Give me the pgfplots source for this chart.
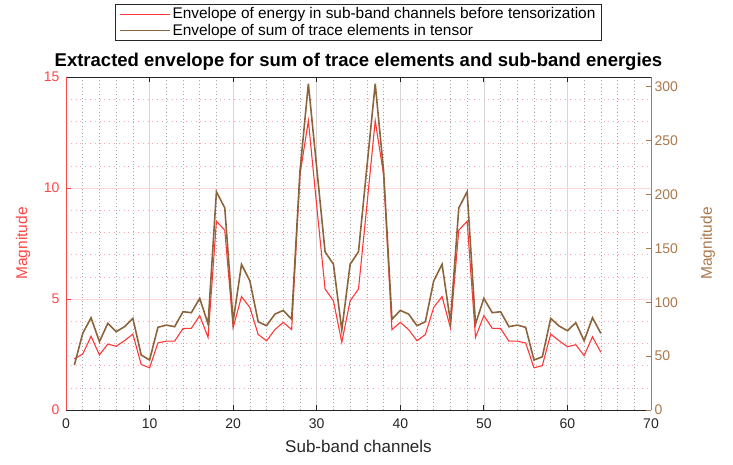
\documentclass[border=0pt]{standalone}
\usepackage{fontspec}
\setmainfont{Liberation Sans}
\usepackage{pgfplots}
\usepackage{pgfplotstable}
\pgfplotsset{compat=1.18}

\definecolor{envred}{RGB}{255,55,55}
\definecolor{envbrown}{RGB}{140,100,60}
\definecolor{axbrown}{RGB}{170,120,75}
\definecolor{axred}{RGB}{255,70,70}

% Envelope of the sub-band energies (left axis)
\pgfplotstableread{
ch  e
1   2.30
2   2.52
3   3.32
4   2.48
5   2.97
6   2.87
7   3.12
8   3.42
9   2.05
10  1.90
11  3.02
12  3.10
13  3.10
14  3.67
15  3.68
16  4.25
17  3.27
18  8.50
19  8.10
20  3.70
21  5.11
22  4.62
23  3.40
24  3.12
25  3.62
26  3.95
27  3.62
28  10.6
29  13.03
30  9.2
31  5.45
32  4.92
33  3.05
34  4.92
35  5.45
36  9.2
37  13.03
38  10.6
39  3.62
40  3.95
41  3.62
42  3.12
43  3.40
44  4.62
45  5.11
46  3.70
47  8.10
48  8.50
49  3.27
50  4.25
51  3.68
52  3.67
53  3.10
54  3.10
55  3.02
56  1.90
57  2.00
58  3.42
59  3.12
60  2.85
61  2.94
62  2.45
63  3.30
64  2.60
}\energy

% Envelope of the summed trace elements (right axis)
\pgfplotstableread{
ch  t
1   41.7
2   71.1
3   85.6
4   63.4
5   80.4
6   72.6
7   77.3
8   85.1
9   51.0
10  46.4
11  76.7
12  78.8
13  77.3
14  91.2
15  90.3
16  103.6
17  79.8
18  202.5
19  187.5
20  81.9
21  135.2
22  119.8
23  81.9
24  78.2
25  89.0
26  92.4
27  84.2
28  222.0
29  302.7
30  225.0
31  146.8
32  135.3
33  74.2
34  135.3
35  146.8
36  225.0
37  302.7
38  222.0
39  84.2
40  92.4
41  89.0
42  78.2
43  81.9
44  119.8
45  135.2
46  81.9
47  187.5
48  202.5
49  79.8
50  103.6
51  90.3
52  91.2
53  77.3
54  78.8
55  76.7
56  46.4
57  49.4
58  85.0
59  77.9
60  73.6
61  81.0
62  64.3
63  85.6
64  71.1
}\trace

\pgfplotsset{
  common/.style={
    at={(0,0)}, anchor=south west,
    scale only axis, width=585pt, height=333pt,
    xmin=0, xmax=70,
    tick align=inside,
    minor tick length=0pt,
    major tick length=5pt,
    /pgf/number format/assume math mode=true,
    tick label style={font=\fontsize{14}{16}\selectfont},
  },
}

\begin{document}
\begin{tikzpicture}
\begin{axis}[
  common,
  ymin=0, ymax=15,
  axis x line=box,
  axis y line*=left,
  x axis line style={black!85, line width=0.8pt},
  y axis line style={axred, line width=0.8pt},
  xtick={0,10,...,70},
  ytick={0,5,10,15},
  minor x tick num=4,
  minor y tick num=4,
  xtick style={black!85, line width=0.8pt},
  ytick style={axred, line width=0.8pt},
  xticklabel style={text=black!85, yshift=-5pt},
  yticklabel style={text=axred, xshift=-3pt},
  xmajorgrids, xminorgrids, ymajorgrids, yminorgrids,
  major x grid style={draw=black!16, line width=0.7pt},
  minor x grid style={draw=black!35, line width=0.5pt, dash pattern=on 0.7pt off 2.8pt},
  major y grid style={draw=red!16, line width=0.7pt},
  minor y grid style={draw=red!35, line width=0.5pt, dash pattern=on 0.8pt off 4pt},
  xlabel={Sub-band channels},
  xlabel style={font=\fontsize{17}{19}\selectfont, text=black!85,
    at={(axis description cs:0.5,-0.11)}, anchor=center},
  ylabel={Magnitude},
  ylabel style={font=\fontsize{15.5}{18}\selectfont, text=axred,
    at={(axis description cs:-0.0735,0.5)}, anchor=center},
  title={\bfseries Extracted envelope for sum of trace elements and sub-band energies},
  title style={font=\fontsize{18.5}{21}\selectfont, yshift=-3pt},
]
\addplot[draw=envred, line width=1.1pt] table[x=ch, y=e] {\energy};
\end{axis}

\begin{axis}[
  common,
  ymin=0, ymax=309,
  axis x line=none,
  axis y line*=right,
  y axis line style={axbrown, line width=0.8pt},
  ytick={0,50,...,300},
  ytick style={axbrown, line width=0.8pt},
  yticklabel style={text=axbrown},
  ylabel={Magnitude},
  ylabel style={font=\fontsize{15.5}{18}\selectfont, text=axbrown,
    at={(axis description cs:1.0974,0.5)}, anchor=center},
  legend style={
    at={(0.5,1)}, anchor=south, yshift=36pt,
    draw=black!85, line width=0.8pt,
    font=\fontsize{15.4}{18.5}\selectfont,
    cells={anchor=west},
    row sep=0pt,
    inner xsep=4pt, inner ysep=1.5pt,
  },
  legend image code/.code={\draw[line width=1pt, #1] (0pt,0pt) -- (50pt,0pt);},
]
\addlegendimage{draw=envred}
\addlegendentry{Envelope of energy in sub-band channels before tensorization}
\addplot[draw=envbrown, line width=1.6pt] table[x=ch, y=t] {\trace};
\addlegendentry{Envelope of sum of trace elements in tensor}
\end{axis}

\pgfresetboundingbox
\path[use as bounding box] (-66pt,-54pt) rectangle (667pt,410pt);
\end{tikzpicture}
\end{document}
